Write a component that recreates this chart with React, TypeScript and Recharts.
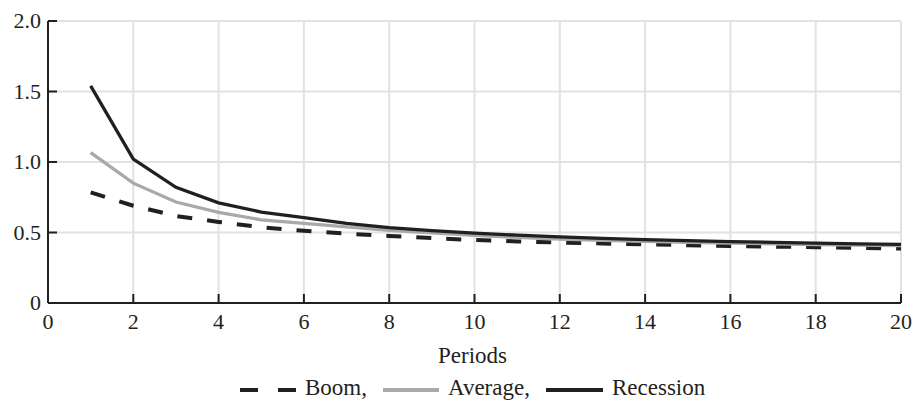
import { LineChart, Line, XAxis, YAxis, CartesianGrid } from 'recharts';

const periods = [1, 2, 3, 4, 5, 6, 7, 8, 9, 10, 11, 12, 13, 14, 15, 16, 17, 18, 19, 20];
const boom = [0.785, 0.69, 0.617, 0.575, 0.537, 0.512, 0.492, 0.476, 0.46, 0.447, 0.437, 0.429, 0.422, 0.416, 0.41, 0.405, 0.4, 0.396, 0.391, 0.386];
const average = [1.067, 0.85, 0.716, 0.643, 0.59, 0.565, 0.54, 0.516, 0.497, 0.48, 0.465, 0.453, 0.445, 0.437, 0.43, 0.425, 0.42, 0.415, 0.41, 0.407];
const recession = [1.54, 1.02, 0.82, 0.71, 0.645, 0.605, 0.565, 0.535, 0.513, 0.495, 0.481, 0.469, 0.458, 0.45, 0.442, 0.435, 0.43, 0.425, 0.42, 0.416];

const xTicks = [0, 2, 4, 6, 8, 10, 12, 14, 16, 18, 20];
const yTicks = [0, 0.5, 1, 1.5, 2];

const data = periods.map((p, i) => ({
  period: p,
  boom: boom[i],
  average: average[i],
  recession: recession[i],
}));

const ink = '#231f20';
const gray = '#a7a9ac';
const serif = 'Liberation Serif';
const tickLen = 9;

const fmtY = (v: number) => (v === 0 ? '0' : v.toFixed(1));

// inward tick marks + labels, drawn by hand so the serif font sticks
const BottomTick = ({ x, y, payload }: any) => (
  <g>
    <line x1={x} x2={x} y1={y} y2={y - tickLen} stroke={ink} strokeWidth={2} />
    <text x={x} y={y + 26} textAnchor="middle" fontFamily={serif} fontSize={22} fill={ink}>
      {payload.value}
    </text>
  </g>
);

const LeftTick = ({ x, y, payload }: any) => (
  <g>
    <line x1={x} x2={x + tickLen} y1={y} y2={y} stroke={ink} strokeWidth={2} />
    <text x={x - 7} y={y + 7} textAnchor="end" fontFamily={serif} fontSize={22} fill={ink}>
      {fmtY(payload.value)}
    </text>
  </g>
);

const TopTick = ({ x, y }: any) => <line x1={x} x2={x} y1={y} y2={y + tickLen} stroke={ink} strokeWidth={2} />;
const RightTick = ({ x, y }: any) => <line x1={x} x2={x - tickLen} y1={y} y2={y} stroke={ink} strokeWidth={2} />;

const PeriodsLabel = ({ viewBox }: any) => (
  <text
    x={viewBox.x + viewBox.width / 2 - 2}
    y={363}
    textAnchor="middle"
    fontFamily={serif}
    fontSize={23}
    fill={ink}
  >
    Periods
  </text>
);

const App = () => {
  return (
    <div style={{ position: 'absolute', left: 0, top: 0, width: 914, height: 400, background: '#fff' }}>
      <LineChart width={914} height={400} data={data} margin={{ top: 21, right: 13, left: 0, bottom: 37 }}>
        <CartesianGrid stroke="#e2e2e2" strokeWidth={2} />
        <XAxis
          dataKey="period"
          type="number"
          domain={[0, 20]}
          ticks={xTicks}
          interval={0}
          height={60}
          tickLine={false}
          tickSize={0}
          tickMargin={0}
          tick={BottomTick}
          stroke={ink}
          strokeWidth={2}
          label={PeriodsLabel}
        />
        <XAxis
          xAxisId="top"
          orientation="top"
          type="number"
          domain={[0, 20]}
          ticks={xTicks}
          interval={0}
          height={0}
          tickLine={false}
          tickSize={0}
          tickMargin={0}
          tick={TopTick}
          stroke={ink}
          strokeWidth={2}
        />
        <YAxis
          type="number"
          domain={[0, 2]}
          ticks={yTicks}
          interval={0}
          width={48}
          tickLine={false}
          tickSize={0}
          tickMargin={0}
          tick={LeftTick}
          stroke={ink}
          strokeWidth={2}
        />
        <YAxis
          yAxisId="right"
          orientation="right"
          type="number"
          domain={[0, 2]}
          ticks={yTicks}
          interval={0}
          width={0}
          tickLine={false}
          tickSize={0}
          tickMargin={0}
          tick={RightTick}
          stroke={ink}
          strokeWidth={2}
        />
        <Line dataKey="boom" stroke={ink} strokeWidth={4} strokeDasharray="15 15" dot={false} isAnimationActive={false} />
        <Line dataKey="average" stroke={gray} strokeWidth={3.3} dot={false} isAnimationActive={false} />
        <Line dataKey="recession" stroke={ink} strokeWidth={3.3} dot={false} isAnimationActive={false} />
      </LineChart>
      <svg width={914} height={400} style={{ position: 'absolute', left: 0, top: 0, pointerEvents: 'none' }}>
        <line x1={240} x2={297} y1={390} y2={390} stroke={ink} strokeWidth={4} strokeDasharray="18 20" />
        <text x={305} y={395} fontFamily={serif} fontSize={23} fill={ink}>Boom,</text>
        <line x1={383} x2={439} y1={390} y2={390} stroke={gray} strokeWidth={4} />
        <text x={448} y={395} fontFamily={serif} fontSize={23} fill={ink}>Average,</text>
        <line x1={546} x2={603} y1={390} y2={390} stroke={ink} strokeWidth={4} />
        <text x={612} y={395} fontFamily={serif} fontSize={23} fill={ink}>Recession</text>
      </svg>
    </div>
  );
};

export default App;
